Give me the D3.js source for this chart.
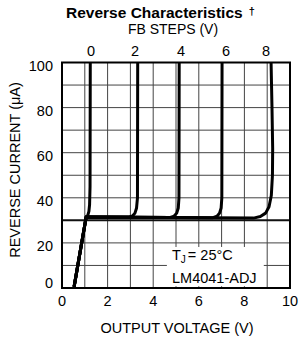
<!DOCTYPE html>
<html>
<head>
<meta charset="utf-8">
<script src="https://cdn.jsdelivr.net/npm/d3@7"></script>
<style>
  body { margin: 0; background: #fff; }
  svg { display: block; }
  text { font-family: "Liberation Sans", Arial, Helvetica, sans-serif; fill: #000; }
</style>
</head>
<body>
<svg id="chart" width="302" height="338"></svg>
<script>
// Axis ticks
const xTicks = [0, 2, 4, 6, 8, 10];
const yTicks = [0, 20, 40, 60, 80, 100];

// FB step labels on top and where they sit (output voltage, V)
const fbSteps = [0, 2, 4, 6, 8];
const fbLabelAt = [1.27, 3.2, 5.22, 7.19, 8.95];

// Curves: [output voltage (V), reverse current (uA)]
const curveFB0 = [[0.53, 0.5], [1.06, 31.5], [1.13, 32.2], [1.18, 34], [1.21, 37], [1.23, 45], [1.24, 100]];
const curveFB2 = [[0.53, 0.5], [1.06, 31.5], [2.95, 31.5], [3.1, 32], [3.2, 33.2], [3.27, 35.5], [3.31, 40], [3.32, 100]];
const curveFB4 = [[0.53, 0.5], [1.06, 31.5], [4.75, 31.3], [4.92, 31.9], [5.03, 33.2], [5.1, 35.5], [5.13, 40], [5.14, 100]];
const curveFB6 = [[0.53, 0.5], [1.06, 31.5], [6.62, 31.2], [6.8, 31.8], [6.91, 33.2], [6.98, 35.5], [7.01, 40], [7.02, 100]];
const curveFB8 = [[0.53, 0.5], [1.06, 31.5], [8.4, 31], [8.7, 31.7], [8.93, 33.2], [9.08, 36], [9.18, 41], [9.23, 50], [9.24, 62], [9.21, 80], [9.17, 100]];

const svg = d3.select("#chart");

const margin = { left: 62, right: 12, top: 62.5, bottom: 50 };
const width = 302, height = 338;

const x = d3.scaleLinear().domain([0, 10]).range([margin.left, width - margin.right]);
const y = d3.scaleLinear().domain([0, 100]).range([height - margin.bottom, margin.top]);

// Grid
const grid = svg.append("g");
grid.selectAll("line.v")
  .data(d3.range(1, 10))
  .join("line")
  .attr("x1", (d) => x(d)).attr("x2", (d) => x(d))
  .attr("y1", y(0)).attr("y2", y(100))
  .attr("stroke", "#444").attr("stroke-width", 1);
grid.selectAll("line.h")
  .data(d3.range(10, 100, 10))
  .join("line")
  .attr("x1", x(0)).attr("x2", x(10))
  .attr("y1", (d) => y(d)).attr("y2", (d) => y(d))
  .attr("stroke", (d) => (d === 30 ? "#111" : "#444"))
  .attr("stroke-width", (d) => (d === 30 ? 2 : 1));

// White box behind the note
svg.append("rect")
  .attr("x", x(4.6)).attr("y", y(18.2))
  .attr("width", x(8.85) - x(4.6)).attr("height", y(0.8) - y(18.2))
  .attr("fill", "#fff");

// Curves
const line = d3.line()
  .x((d) => x(d[0]))
  .y((d) => y(d[1]));

svg.append("g")
  .selectAll("path")
  .data([curveFB0, curveFB2, curveFB4, curveFB6, curveFB8])
  .join("path")
  .attr("d", line)
  .attr("fill", "none")
  .attr("stroke", "#000")
  .attr("stroke-width", 3)
  .attr("stroke-linejoin", "round");

// Frame
svg.append("rect")
  .attr("x", x(0)).attr("y", y(100))
  .attr("width", x(10) - x(0)).attr("height", y(0) - y(100))
  .attr("fill", "none").attr("stroke", "#000").attr("stroke-width", 2);

// Bottom axis labels
svg.append("g")
  .selectAll("text")
  .data(xTicks)
  .join("text")
  .attr("x", (d) => x(d))
  .attr("y", 305.5)
  .attr("text-anchor", "middle")
  .style("font-size", "14.5px")
  .text((d) => d);

// Left axis labels
svg.append("g")
  .selectAll("text")
  .data(yTicks)
  .join("text")
  .attr("x", 53)
  .attr("y", (d) => y(d) + (d === 0 ? 0 : 8))
  .attr("text-anchor", "end")
  .style("font-size", "14.5px")
  .text((d) => d);

// Top FB step labels
svg.append("g")
  .selectAll("text")
  .data(fbSteps)
  .join("text")
  .attr("x", (d, i) => x(fbLabelAt[i]))
  .attr("y", 55.5)
  .attr("text-anchor", "middle")
  .style("font-size", "14.5px")
  .text((d) => d);

// Titles
const title = svg.append("text")
  .attr("x", 66).attr("y", 18)
  .style("font-size", "15.5px").style("font-weight", "bold");
title.append("tspan").text("Reverse Characteristics");
title.append("tspan").attr("dx", 6).attr("dy", -3).style("font-size", "11px").text("†");

svg.append("text")
  .attr("x", 173).attr("y", 34)
  .attr("text-anchor", "middle")
  .style("font-size", "14px")
  .text("FB STEPS (V)");

svg.append("text")
  .attr("x", 177).attr("y", 333)
  .attr("text-anchor", "middle")
  .style("font-size", "14.5px")
  .text("OUTPUT VOLTAGE (V)");

svg.append("text")
  .attr("transform", "translate(20,170) rotate(-90)")
  .attr("text-anchor", "middle")
  .style("font-size", "14.5px")
  .text("REVERSE CURRENT (μA)");

// Note
const note = svg.append("text")
  .attr("x", 172).attr("y", 260)
  .style("font-size", "14.5px");
note.append("tspan").text("T");
note.append("tspan").attr("dy", 3).style("font-size", "10px").text("J");
note.append("tspan").attr("dy", -3).attr("dx", 2).text("= 25°C");

svg.append("text")
  .attr("x", 172).attr("y", 283)
  .style("font-size", "14.5px")
  .text("LM4041-ADJ");
</script>
</body>
</html>
